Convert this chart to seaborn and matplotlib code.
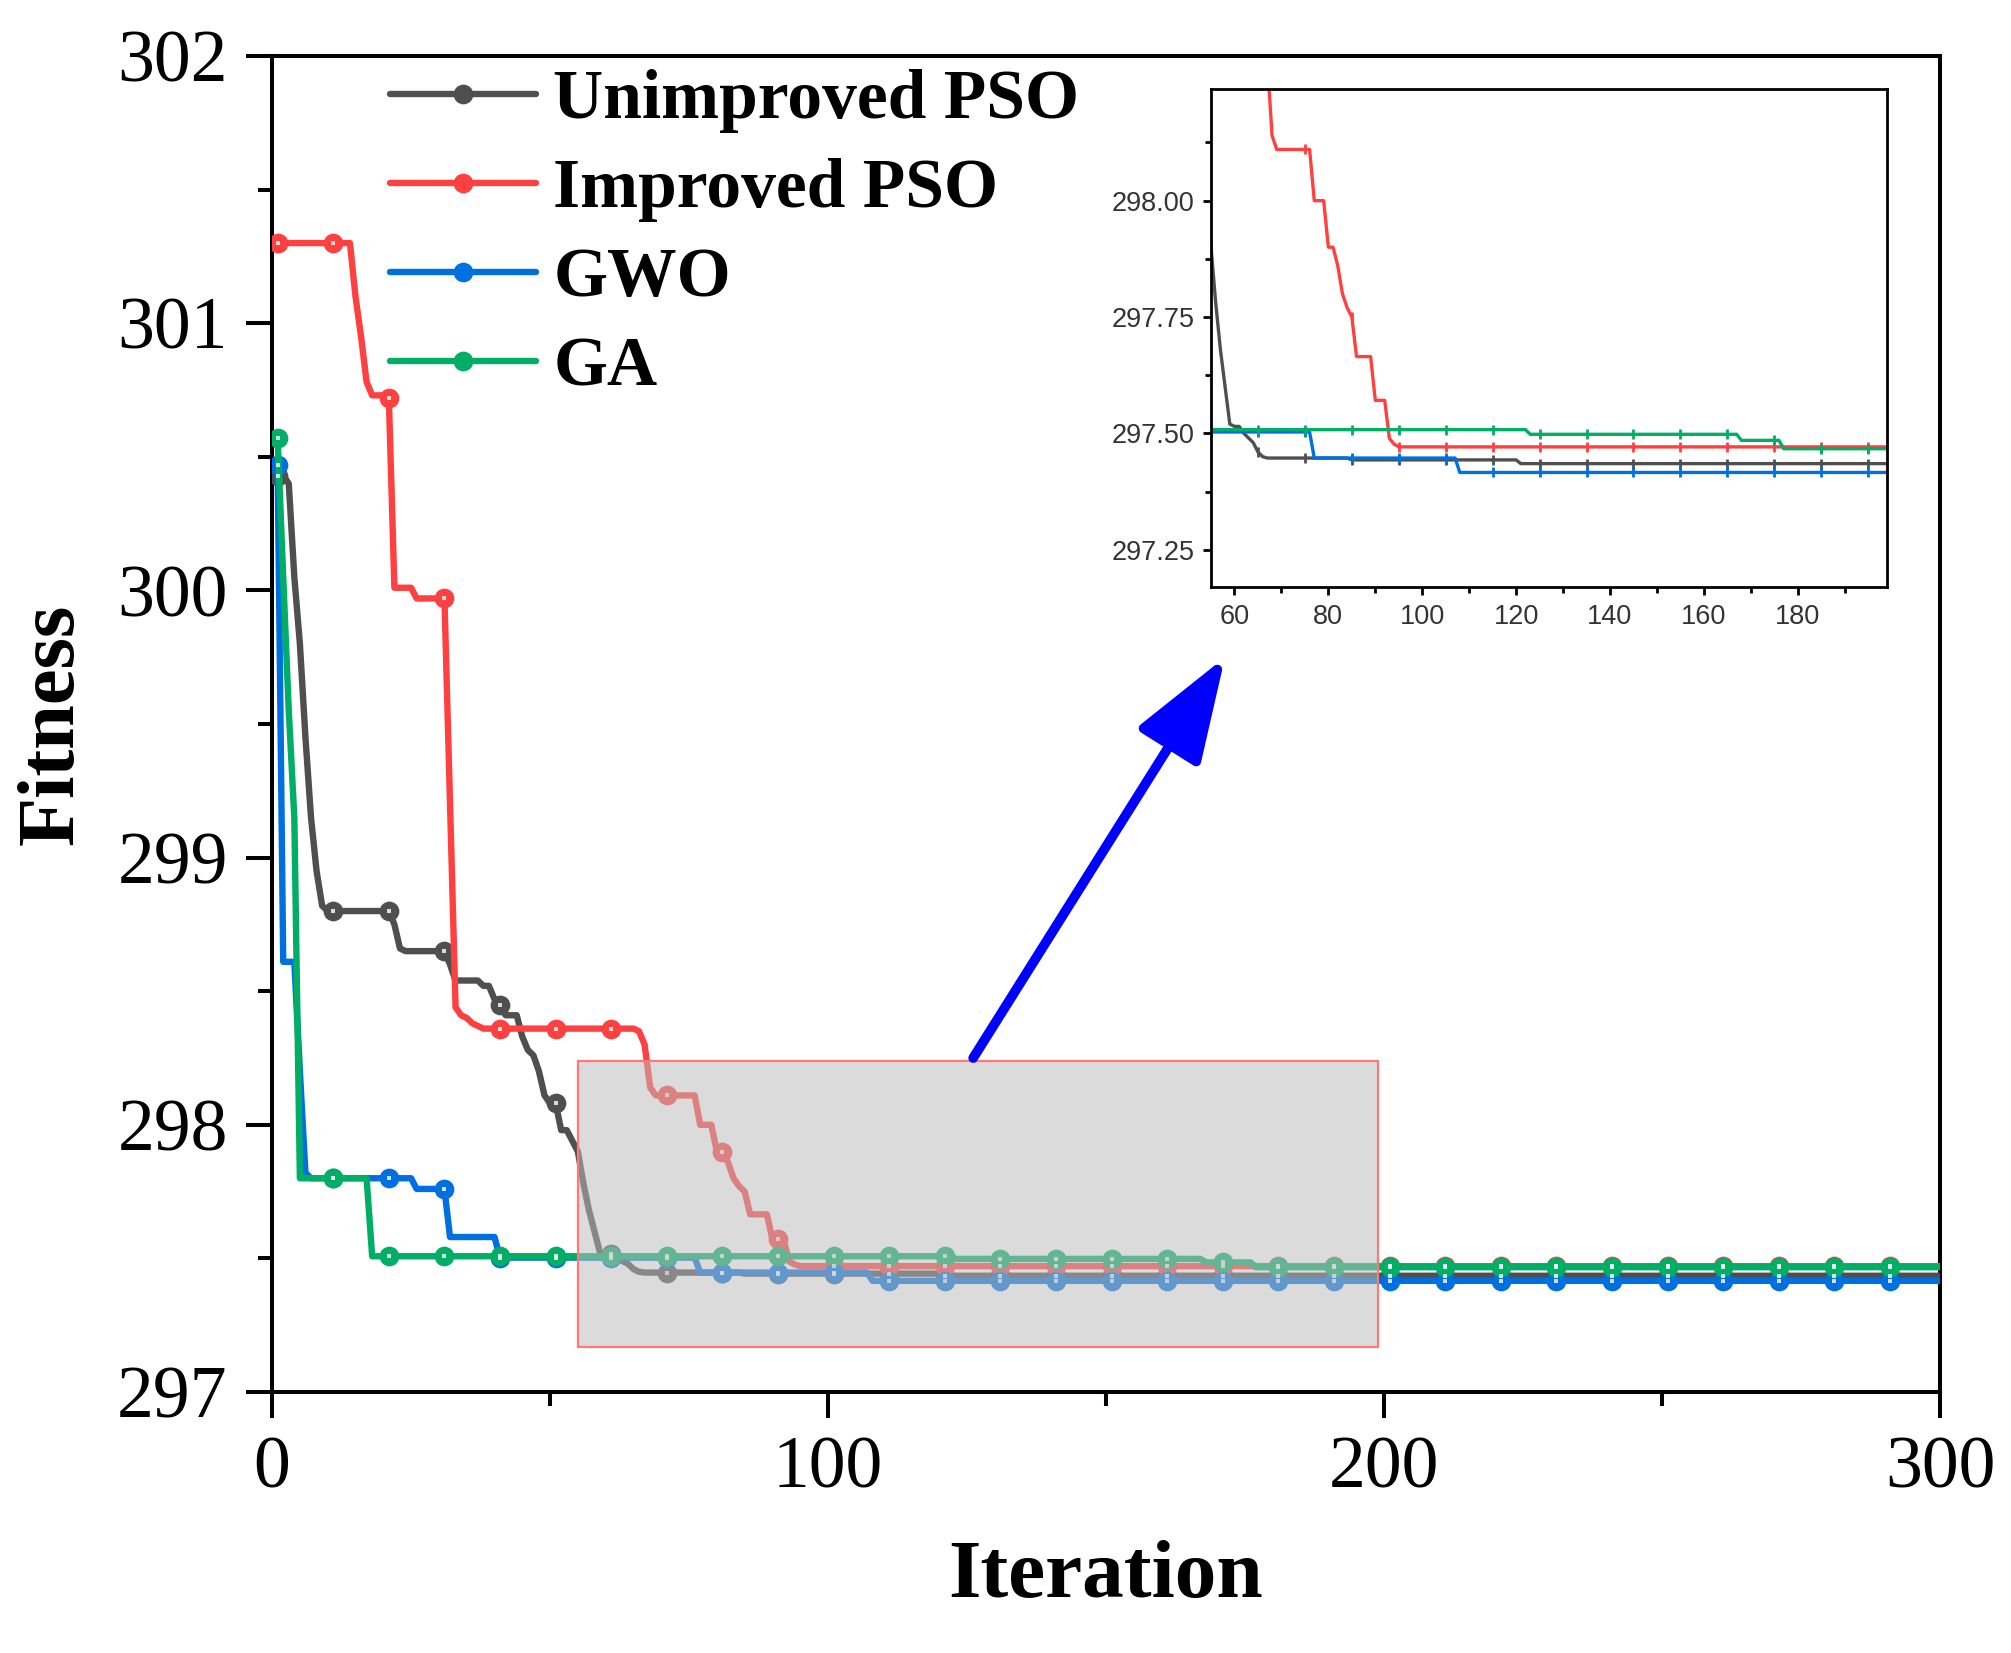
import numpy as np
import pandas as pd
import matplotlib
matplotlib.use("Agg")
import matplotlib.pyplot as plt
from matplotlib.patches import Rectangle
from matplotlib.ticker import MultipleLocator, FormatStrFormatter
import seaborn as sns

# change points of each convergence curve (iteration where the best fitness changes, new value)
gray_it = [1, 3, 4, 5, 6, 7, 8, 9, 10, 22, 23, 24, 32, 33, 38, 40, 41, 42, 45, 46, 47, 48, 49, 50,
           52, 54, 55, 56, 57, 58, 59, 60, 62, 63, 64, 65, 66, 67, 85, 121]
gray_v = [300.43, 300.40, 300.05, 299.80, 299.45, 299.15, 298.95, 298.82, 298.80, 298.75, 298.66, 298.65,
          298.60, 298.54, 298.52, 298.47, 298.45, 298.41, 298.33, 298.28, 298.26, 298.20, 298.11, 298.08,
          297.98, 297.94, 297.90, 297.78, 297.68, 297.60, 297.52, 297.515, 297.50, 297.49, 297.48, 297.46,
          297.45, 297.447, 297.443, 297.435]

red_it = [1, 15, 16, 17, 18, 21, 22, 26, 32, 33, 34, 35, 36, 37, 38, 66, 67, 68, 69, 77, 80, 82, 83,
          84, 85, 86, 90, 93, 94, 95]
red_v = [301.30, 301.10, 300.95, 300.78, 300.73, 300.72, 300.01, 299.97, 299.20, 298.44, 298.41, 298.40,
         298.38, 298.37, 298.36, 298.35, 298.30, 298.14, 298.11, 298.00, 297.90, 297.86, 297.80, 297.77,
         297.75, 297.665, 297.571, 297.489, 297.477, 297.471]

blue_it = [1, 2, 4, 5, 6, 7, 26, 32, 41, 77, 108]
blue_v = [300.47, 298.61, 298.61, 298.20, 297.82, 297.80, 297.76, 297.58, 297.503, 297.447, 297.416]

green_it = [1, 2, 3, 4, 5, 18, 123, 168, 177]
green_v = [300.57, 300.05, 299.55, 299.15, 297.80, 297.508, 297.498, 297.485, 297.467]

names = ["Unimproved PSO", "Improved PSO", "GWO", "GA"]
colors = ["#4f4f4f", "#ff4040", "#0070e0", "#00ae66"]
n_iter = 300

iters = np.arange(1, n_iter + 1)


def expand(its, vals):
    # best-so-far value is held until the next change point
    s = pd.Series(vals, index=its).reindex(iters).ffill()
    return s.values


curves = [expand(gray_it, gray_v), expand(red_it, red_v),
          expand(blue_it, blue_v), expand(green_it, green_v)]

sns.set_style("ticks")
plt.rcParams["font.family"] = ["Liberation Serif", "DejaVu Serif"]
plt.rcParams["axes.edgecolor"] = "black"
plt.rcParams["xtick.color"] = "black"
plt.rcParams["ytick.color"] = "black"
plt.rcParams["text.color"] = "black"
plt.rcParams["axes.labelcolor"] = "black"

fig = plt.figure(figsize=(20.11, 16.53), dpi=100)
ax = fig.add_axes([0.1353, 0.1579, 0.8294, 0.8082])

for name, col, y in zip(names, colors, curves):
    sns.lineplot(x=iters, y=y, ax=ax, color=col, marker="o", markersize=13,
                 markeredgecolor=col, markeredgewidth=1.2, markevery=10, label=name,
                 zorder=3, legend=False)
for line in ax.lines:
    line.set_linewidth(4.6)
for col, y in zip(colors, curves):
    ax.plot(iters, y, ls="none", marker="s", markersize=3, color="white",
            markeredgewidth=0, markevery=10, zorder=4, alpha=0.8)

ax.set_xlim(0, 300)
ax.set_ylim(297, 302)
ax.xaxis.set_major_locator(MultipleLocator(100))
ax.xaxis.set_minor_locator(MultipleLocator(50))
ax.yaxis.set_major_locator(MultipleLocator(1))
ax.yaxis.set_minor_locator(MultipleLocator(0.5))
ax.tick_params(which="major", direction="out", length=19, width=2.9, labelsize=53, pad=13)
ax.tick_params(which="minor", direction="out", length=10, width=2.9)
ax.set_xlabel("Iteration", fontsize=60, fontweight="bold", labelpad=26)
ax.set_ylabel("Fitness", fontsize=58, fontweight="bold", labelpad=20)
for sp in ax.spines.values():
    sp.set_linewidth(2.9)

# zoom region
ax.add_patch(Rectangle((55, 297.17), 144, 1.07, facecolor="#bcbcbc", alpha=0.53,
                       edgecolor="none", zorder=5))
ax.add_patch(Rectangle((55, 297.17), 144, 1.07, fill=False, edgecolor="#ff7878",
                       lw=1.6, zorder=6))

ax.annotate("", xy=(171.4, 299.75), xytext=(126.1, 298.25),
            arrowprops=dict(arrowstyle="-|>,head_length=1.0,head_width=0.35",
                            mutation_scale=64, lw=7, color="blue",
                            shrinkA=0, shrinkB=0), zorder=8)

leg = ax.legend(handles=ax.lines[:4], labels=names, loc="upper left",
                bbox_to_anchor=(0.0707, 0.99), frameon=False,
                prop={"family": ["Liberation Serif", "DejaVu Serif"], "weight": "bold", "size": 50},
                handlelength=2.1, handletextpad=0.25, labelspacing=0.36,
                borderpad=0, borderaxespad=0)
leg.set_zorder(7)

# inset
ins = fig.add_axes([0.6022, 0.6449, 0.3361, 0.3013])
ins.set_zorder(9)
for name, col, y in zip(names, colors, curves):
    sns.lineplot(x=iters, y=y, ax=ins, color=col, marker="|", markersize=7,
                 markeredgecolor=col, markeredgewidth=2, markevery=(4, 10), legend=False)
for line in ins.lines:
    line.set_linewidth(2.4)
ins.set_xlim(55, 199)
ins.set_ylim(297.17, 298.24)
ins.xaxis.set_major_locator(MultipleLocator(20))
ins.xaxis.set_minor_locator(MultipleLocator(10))
ins.yaxis.set_major_locator(MultipleLocator(0.25))
ins.yaxis.set_minor_locator(MultipleLocator(0.125))
ins.yaxis.set_major_formatter(FormatStrFormatter("%.2f"))
ins.tick_params(which="major", direction="out", length=6, width=2, pad=6,
                labelsize=19.5, labelcolor="#333333")
ins.tick_params(which="minor", direction="out", length=4, width=2)
for lab in ins.get_xticklabels() + ins.get_yticklabels():
    lab.set_family(["Liberation Sans", "DejaVu Sans"])
for sp in ins.spines.values():
    sp.set_linewidth(2)
ins.set_xlabel("")
ins.set_ylabel("")

fig.savefig("out.png", dpi=100)
